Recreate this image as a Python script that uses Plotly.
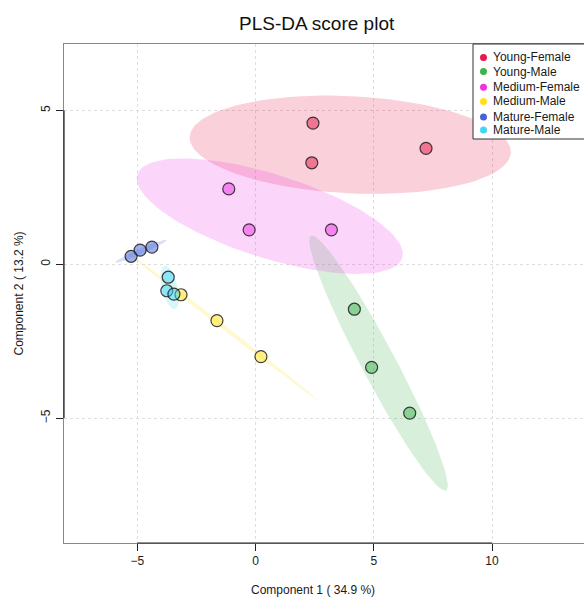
import numpy as np
import plotly.graph_objects as go

# ---------------- data ----------------
groups = ["Young-Female", "Young-Male", "Medium-Female", "Medium-Male", "Mature-Female", "Mature-Male"]
colors = ["#e6194B", "#3cb44b", "#f032e6", "#ffe119", "#4363d8", "#42d4f4"]

young_female_x = [2.43, 2.38, 7.21]
young_female_y = [4.59, 3.30, 3.77]
young_male_x = [4.18, 4.91, 6.52]
young_male_y = [-1.46, -3.35, -4.84]
medium_female_x = [-1.13, -0.27, 3.21]
medium_female_y = [2.45, 1.12, 1.12]
medium_male_x = [-3.15, -1.63, 0.23]
medium_male_y = [-0.99, -1.83, -3.00]
mature_female_x = [-5.26, -4.88, -4.38]
mature_female_y = [0.26, 0.46, 0.56]
mature_male_x = [-3.69, -3.75, -3.45]
mature_male_y = [-0.42, -0.86, -0.97]

xs = [young_female_x, young_male_x, medium_female_x, medium_male_x, mature_female_x, mature_male_x]
ys = [young_female_y, young_male_y, medium_female_y, medium_male_y, mature_female_y, mature_male_y]

x_ticks = [-5, 0, 5, 10]
y_ticks = [-5, 0, 5]
x_title = "Component 1 ( 34.9 %)"
y_title = "Component 2 ( 13.2 %)"
title = "PLS-DA score plot"

# ---------------- layout constants ----------------
W, H = 584, 598
ML, MT, MB, MR = 64, 44, 55, 0
PW, PH = W - ML - MR, H - MT - MB
FONT = "Liberation Sans, Arial, sans-serif"
TXT = "#1a1a1a"


def hex_rgba(h, a):
    h = h.lstrip("#")
    r, g, b = int(h[0:2], 16), int(h[2:4], 16), int(h[4:6], 16)
    return f"rgba({r},{g},{b},{a})"


def px_x(p):
    return (p - ML) / PW


def px_y(p):
    return (H - MB - p) / PH


def conf_ellipse(x, y, level_chi2=5.991464547107979, n=120):
    pts = np.column_stack([x, y])
    c = pts.mean(axis=0)
    cov = np.cov(pts, rowvar=False)
    vals, vecs = np.linalg.eigh(cov)
    vals = np.clip(vals, 0, None)
    t = np.linspace(0, 2 * np.pi, n)
    circ = np.vstack([np.cos(t), np.sin(t)])
    e = vecs @ (np.sqrt(vals * level_chi2)[:, None] * circ)
    return c[0] + e[0], c[1] + e[1]


fig = go.Figure()

# ellipses
for g, col, x, y in zip(groups, colors, xs, ys):
    ex, ey = conf_ellipse(x, y)
    fig.add_trace(go.Scatter(x=ex, y=ey, mode="lines", fill="toself",
                             fillcolor=hex_rgba(col, 0.2), line=dict(width=0),
                             hoverinfo="skip", showlegend=False))

# points
for g, col, x, y in zip(groups, colors, xs, ys):
    fig.add_trace(go.Scatter(x=x, y=y, mode="markers", name=g,
                             marker=dict(size=12, color=hex_rgba(col, 0.5),
                                         line=dict(color="rgba(30,30,30,0.85)", width=1.2)),
                             showlegend=False))

x_range = [(ML - 255.5) / 23.65, (W - MR - 255.5) / 23.65]
y_range = [(264.3 - (H - MB)) / 30.76, (264.3 - MT) / 30.76]

shapes = []
# dark axis segments between first and last ticks
shapes.append(dict(type="line", xref="x", yref="paper", x0=x_ticks[0], x1=x_ticks[-1], y0=0, y1=0,
                   line=dict(color="#222", width=1.2), layer="above"))
shapes.append(dict(type="line", xref="paper", yref="y", x0=0, x1=0, y0=y_ticks[0], y1=y_ticks[-1],
                   line=dict(color="#222", width=1.2), layer="above"))

# legend box
leg_left, leg_top, leg_bottom = 473, MT, 139
shapes.append(dict(type="rect", xref="paper", yref="paper", x0=px_x(leg_left), x1=px_x(W + 20),
                   y0=px_y(leg_bottom), y1=px_y(leg_top), fillcolor="white",
                   line=dict(color="#333", width=1), layer="above"))

leg_item_y = [57.5, 71.5, 87.3, 101.5, 117, 130]
annotations = []
for g, col, py in zip(groups, colors, leg_item_y):
    shapes.append(dict(type="circle", xref="paper", yref="paper", xsizemode="pixel", ysizemode="pixel",
                       xanchor=px_x(483.5), yanchor=px_y(py), x0=-3.5, x1=3.5, y0=-3.5, y1=3.5,
                       fillcolor=col, line=dict(width=0), layer="above"))
    annotations.append(dict(text=g, xref="paper", yref="paper", x=px_x(491), y=px_y(py),
                            xanchor="left", yanchor="middle", showarrow=False,
                            font=dict(size=12, family=FONT, color=TXT)))

annotations.append(dict(text=title, xref="paper", yref="paper", x=px_x(317), y=px_y(24),
                        xanchor="center", yanchor="middle", showarrow=False,
                        font=dict(size=19, family=FONT, color="#111")))
annotations.append(dict(text=x_title, xref="paper", yref="paper", x=px_x(313), y=px_y(590),
                        xanchor="center", yanchor="middle", showarrow=False,
                        font=dict(size=12, family=FONT, color=TXT)))
annotations.append(dict(text=y_title, xref="paper", yref="paper", x=px_x(18), y=0.5,
                        xanchor="center", yanchor="middle", showarrow=False, textangle=-90,
                        font=dict(size=12, family=FONT, color=TXT)))

fig.update_layout(
    width=W, height=H, margin=dict(l=ML, r=MR, t=MT, b=MB),
    paper_bgcolor="white", plot_bgcolor="white",
    shapes=shapes, annotations=annotations, showlegend=False,
    font=dict(family=FONT, size=12, color=TXT),
)
fig.update_xaxes(range=x_range, tickvals=x_ticks, ticks="outside", ticklen=7, tickwidth=1,
                 tickcolor="#222", showline=True, linecolor="#888", linewidth=1, mirror=True,
                 showgrid=True, gridcolor="#dedede", griddash="dot", gridwidth=1, zeroline=False,
                 tickfont=dict(size=12, family=FONT, color=TXT))
fig.update_yaxes(range=y_range, tickvals=y_ticks, ticks="outside", ticklen=7, tickwidth=1,
                 tickcolor="#222", showline=True, linecolor="#888", linewidth=1, mirror=False,
                 showgrid=True, gridcolor="#dedede", griddash="dot", gridwidth=1, zeroline=False,
                 tickangle=-90, ticklabelstandoff=1, tickfont=dict(size=12, family=FONT, color=TXT))

fig.write_html("out.html")
